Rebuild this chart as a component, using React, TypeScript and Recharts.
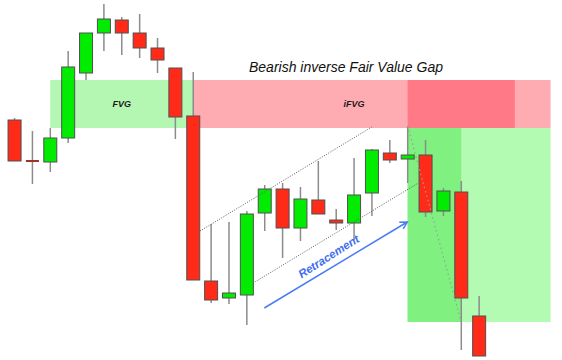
import { ComposedChart, Bar, XAxis, YAxis, ReferenceArea, ReferenceLine } from 'recharts';

const FONT = '"Liberation Sans", Arial, sans-serif';

// candle prices (higher = up)
const opens = [240, 199, 198, 222, 287, 327, 340, 327, 312, 292, 244, 79, 62, 65, 147, 171, 132, 160, 140, 137, 167, 207, 201, 205, 149, 168, 44];
const closes = [199, 199, 222, 293, 327, 341, 327, 312, 300, 243, 80, 60, 67, 146, 171, 132, 161, 146, 137, 165, 210, 200, 205, 148, 169, 62, 4];
const highs = [242, 229, 232, 309, 327, 356, 343, 346, 322, 292, 288, 136, 138, 149, 175, 177, 173, 199, 151, 202, 211, 220, 234, 220, 172, 179, 64];
const lows = [199, 176, 188, 217, 280, 309, 305, 302, 287, 221, 80, 57, 56, 35, 129, 102, 119, 146, 130, 120, 144, 197, 177, 143, 144, 10, 4];

// gap edges: high of candle 3, low of candle 5
const gapLow = highs[2];
const gapHigh = lows[4];

// zone spans (candle index units)
const fvgSpan = [2, 10];
const ifvgSpan = [10, 30];
const ifvgLabelSpan = [10, 28];
const retestSpan = [22, 28];
const targetSpan = [22, 30];
const entrySpan = [22, 25];
const targetBottom = 38;

// guide lines
const channelUpper = [{ x: 10.38, y: 129 }, { x: 19.99, y: 233 }];
const channelLower = [{ x: 13.36, y: 77 }, { x: 22.6, y: 177 }];
const dropLine = [{ x: 22, y: 234 }, { x: 25, y: 38 }];
const arrowLine = [{ x: 13.98, y: 52 }, { x: 21.98, y: 138 }];

const candles = opens.map((o, i) => ({
  i,
  open: o,
  close: closes[i],
  high: highs[i],
  low: lows[i],
  range: [lows[i], highs[i]],
}));

function Candle(props: any) {
  const { x, y, width, height, payload } = props;
  const top = Math.min(y, y + height);
  const h = Math.abs(height);
  const { open, close, high, low } = payload;
  const k = h / (high - low);
  const py = (v: number) => top + (high - v) * k;
  const cx = x + width / 2;
  const bodyTop = py(Math.max(open, close));
  const bodyBot = py(Math.min(open, close));
  return (
    <g>
      <line x1={cx} x2={cx} y1={top} y2={top + h} stroke="#8c8c8c" strokeWidth={1.5} />
      {open === close ? (
        <line x1={x + 0.5} x2={x + width - 0.5} y1={bodyTop} y2={bodyTop} stroke="#a0302a" strokeWidth={2} />
      ) : (
        <rect
          x={x + 0.5}
          y={bodyTop}
          width={width - 1}
          height={bodyBot - bodyTop}
          fill={close > open ? '#02ec02' : '#ff2a18'}
          stroke="#505050"
          strokeWidth={1}
        />
      )}
    </g>
  );
}

function Arrow(props: any) {
  const { x1, y1, x2, y2 } = props;
  const ang = Math.atan2(y2 - y1, x2 - x1);
  const len = 8;
  const a1 = ang + Math.PI - 0.5;
  const a2 = ang + Math.PI + 0.5;
  const mx = (x1 + x2) / 2;
  const my = (y1 + y2) / 2;
  const nx = Math.sin(ang) * 10;
  const ny = -Math.cos(ang) * 10;
  return (
    <g>
      <line x1={x1} y1={y1} x2={x2} y2={y2} stroke="#4a7cf5" strokeWidth={1.5} />
      <polyline
        points={`${x2 + Math.cos(a1) * len},${y2 + Math.sin(a1) * len} ${x2},${y2} ${x2 + Math.cos(a2) * len},${y2 + Math.sin(a2) * len}`}
        fill="none"
        stroke="#4a7cf5"
        strokeWidth={1.5}
      />
      <text
        x={mx + nx - 2}
        y={my + ny}
        transform={`rotate(${(ang * 180) / Math.PI - 1.5} ${mx + nx - 2} ${my + ny})`}
        textAnchor="middle"
        dominantBaseline="central"
        fontFamily={FONT}
        fontSize={11.5}
        fontWeight="bold"
        fontStyle="italic"
        fill="#3f6ff0"
      >
        Retracement
      </text>
    </g>
  );
}

const TitleLabel = (p: any) => {
  const vb = p.viewBox;
  return (
    <text x={vb.x + vb.width / 2 - 8} y={vb.y - 8} textAnchor="middle" fontFamily={FONT} fontSize={14} fontStyle="italic" fill="#111">
      Bearish inverse Fair Value Gap
    </text>
  );
};

const smallLabel = (value: string) => ({
  value,
  position: 'center' as const,
  fill: '#1a1a1a',
  fontSize: 9,
  fontWeight: 'bold',
  fontStyle: 'italic',
  fontFamily: FONT,
});

export default function App() {
  return (
    <div style={{ position: 'absolute', left: 0, top: 0, width: 562, height: 360, background: '#fff' }}>
      <ComposedChart width={562} height={360} data={candles} margin={{ top: 0, right: 0, bottom: 0, left: 0 }}>
        <XAxis type="number" dataKey="i" domain={[-0.811, 30.64]} allowDataOverflow hide />
        <YAxis type="number" domain={[0, 360]} allowDataOverflow hide />

        <ReferenceArea x1={fvgSpan[0]} x2={fvgSpan[1]} y1={gapLow} y2={gapHigh} fill="#b3f7b3" fillOpacity={1} stroke="none" label={smallLabel('FVG')} />
        <ReferenceArea x1={ifvgSpan[0]} x2={ifvgSpan[1]} y1={gapLow} y2={gapHigh} fill="#ffabb2" fillOpacity={1} stroke="none" />
        <ReferenceArea x1={retestSpan[0]} x2={retestSpan[1]} y1={gapLow} y2={gapHigh} fill="#ff7a86" fillOpacity={1} stroke="none" />
        <ReferenceArea x1={targetSpan[0]} x2={targetSpan[1]} y1={targetBottom} y2={gapLow} fill="#b3fab3" fillOpacity={1} stroke="none" />
        <ReferenceArea x1={entrySpan[0]} x2={entrySpan[1]} y1={targetBottom} y2={gapLow} fill="#80f080" fillOpacity={1} stroke="none" />
        <ReferenceArea
          x1={ifvgLabelSpan[0]}
          x2={ifvgLabelSpan[1]}
          y1={gapLow}
          y2={gapHigh}
          fill="none"
          fillOpacity={0}
          stroke="none"
          label={smallLabel('iFVG')}
        />
        <ReferenceArea x1={ifvgLabelSpan[0]} x2={ifvgLabelSpan[1]} y1={gapLow} y2={gapHigh} fillOpacity={0} stroke="none" label={{ content: TitleLabel }} />

        <ReferenceLine segment={channelUpper} stroke="#5a5a5a" strokeDasharray="1 1.5" strokeWidth={1} />
        <ReferenceLine segment={channelLower} stroke="#5a5a5a" strokeDasharray="1 1.5" strokeWidth={1} />
        <ReferenceLine segment={dropLine} stroke="#8fa88f" strokeDasharray="1.5 3" strokeWidth={1.2} />

        <Bar dataKey="range" barSize={14} shape={Candle} isAnimationActive={false} />

        <ReferenceLine segment={arrowLine} shape={Arrow} />
      </ComposedChart>
    </div>
  );
}
